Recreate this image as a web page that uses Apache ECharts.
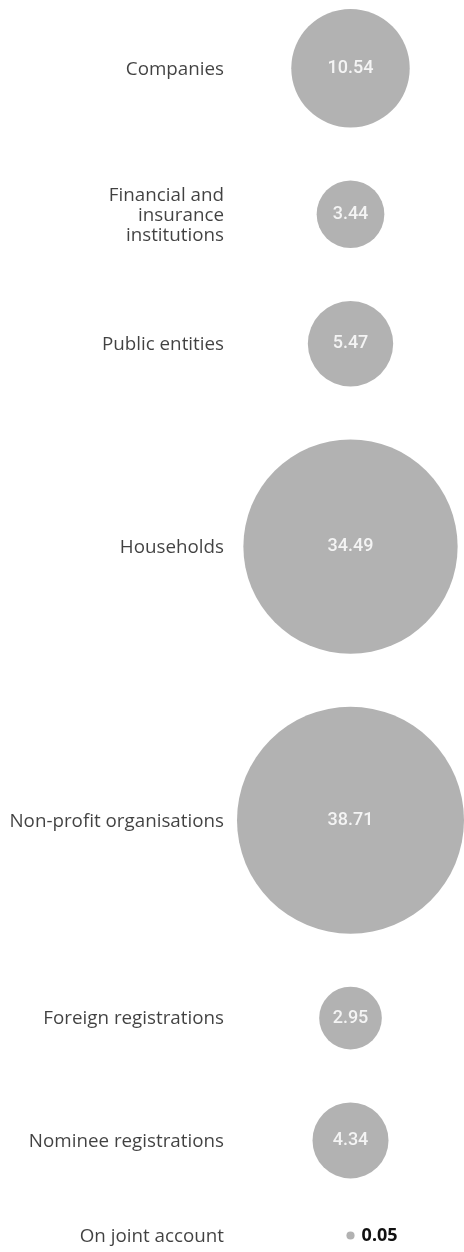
<!DOCTYPE html>
<html>
<head>
<meta charset="utf-8">
<script src="https://cdn.jsdelivr.net/npm/echarts@6/dist/echarts.min.js"></script>
<style>
html,body{margin:0;padding:0;background:#fff;}
#chart{width:464px;height:1252px;}
</style>
</head>
<body>
<div id="chart"></div>
<script>
// Data
const categories = [
  'Companies',
  'Financial and\ninsurance\ninstitutions',
  'Public entities',
  'Households',
  'Non-profit organisations',
  'Foreign registrations',
  'Nominee registrations',
  'On joint account'
];
const shares = [10.54, 3.44, 5.47, 34.49, 38.71, 2.95, 4.34, 0.05];

// Layout (style)
const H = 1252;
const MAX_D = 227;      // diameter of the largest bubble
const GAP = 53;         // vertical gap between bubbles
const TOP = 9;
const SMALL = 1;        // values below this get the label outside

const maxV = Math.max.apply(null, shares);
const diam = v => MAX_D * Math.sqrt(v / maxV);

// stack rows: positions derived from the bubble sizes
const centers = [];
let cursor = TOP;
shares.forEach(v => {
  const d = diam(v);
  centers.push(cursor + d / 2);
  cursor += d + GAP;
});

const bubbleData = shares.map((v, i) => ({
  value: [0, centers[i], v],
  symbolSize: diam(v),
  label: v < SMALL ? {
    position: 'right', distance: 7, color: '#111111',
    fontWeight: 'bold', fontSize: 18, fontFamily: 'Noto Sans'
  } : {}
}));
const nameData = categories.map((c, i) => ({ value: [1, centers[i] + 1], name: c }));

const chart = echarts.init(document.getElementById('chart'), null, { renderer: 'canvas' });
chart.setOption({
  backgroundColor: '#ffffff',
  animation: false,
  grid: [
    { left: 237, right: 0, top: 0, bottom: 0 },
    { left: 0, width: 224, top: 0, bottom: 0 }
  ],
  xAxis: [
    { type: 'category', data: [''], gridIndex: 0, show: false, boundaryGap: true },
    { type: 'value', min: 0, max: 1, gridIndex: 1, show: false }
  ],
  yAxis: [
    { type: 'value', min: 0, max: H, inverse: true, gridIndex: 0, show: false },
    { type: 'value', min: 0, max: H, inverse: true, gridIndex: 1, show: false }
  ],
  series: [
    {
      type: 'scatter',
      xAxisIndex: 0, yAxisIndex: 0,
      data: bubbleData,
      itemStyle: { color: '#b2b2b2', opacity: 1 },
      label: {
        show: true,
        position: 'inside',
        formatter: p => p.value[2].toFixed(2),
        color: '#f4f4f4',
        fontSize: 18,
        fontWeight: 500,
        fontFamily: 'Roboto'
      },
      emphasis: { disabled: true },
      silent: true
    },
    {
      type: 'scatter',
      xAxisIndex: 1, yAxisIndex: 1,
      data: nameData,
      symbolSize: 0,
      label: {
        show: true,
        position: 'left',
        distance: 0,
        align: 'right',
        formatter: p => p.name,
        color: '#111111',
        fontSize: 18.8,
        lineHeight: 20,
        fontFamily: 'Open Sans'
      },
      silent: true
    }
  ]
});
</script>
</body>
</html>
